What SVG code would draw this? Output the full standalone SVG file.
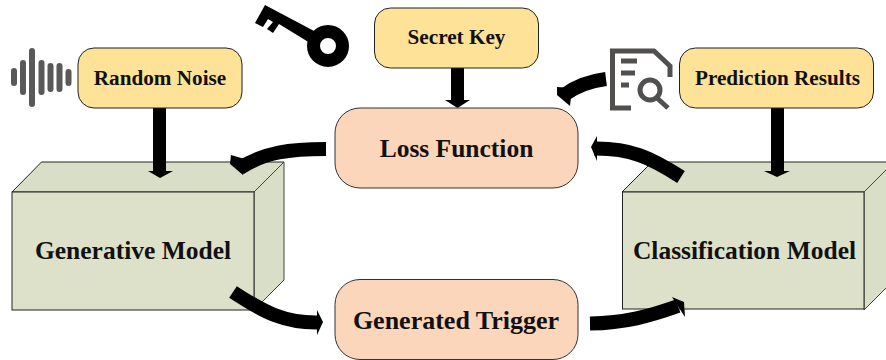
<svg xmlns="http://www.w3.org/2000/svg" width="886" height="360" viewBox="0 0 886 360">
<style>
text{font-family:"Liberation Serif","Times New Roman",serif;font-weight:bold;fill:#111;text-anchor:middle}
.y{fill:#fee298;stroke:#222;stroke-width:1}
.o{fill:#fbd6bb;stroke:#333;stroke-width:1}
.f{fill:#dde1c9;stroke:#222;stroke-width:1}
.t{fill:#d9dec6;stroke:#222;stroke-width:1}
.s{fill:#d9dec6;stroke:#444;stroke-width:1}
.c{fill:none;stroke:#000;stroke-width:14}
.a{fill:#000}
.bar{stroke:#595959;stroke-width:6;stroke-linecap:round}
.doc{fill:none;stroke:#524f4f;stroke-width:5}
</style>
<g id="generative-model">
<path class="t" d="M12 192L41.500 162H284L254 192Z"/>
<path class="s" d="M254 192L284 162V280L254 310Z"/>
<rect class="f" x="12" y="192" width="242" height="118"/>
<text x="133" y="259" font-size="25.500">Generative Model</text>
</g>
<g id="classification-model">
<path class="t" d="M622 192L652 162H894L864 192Z"/>
<path class="s" d="M864 192L894 162V280L864 310Z"/>
<rect class="f" x="622.500" y="192" width="241.500" height="117"/>
<text x="744.500" y="259" font-size="25.500">Classification Model</text>
</g>
<g id="connectors">
<rect class="a" x="153" y="108" width="13" height="63"/><path class="a" d="M148 171H173L160 178Z"/>
<rect class="a" x="451" y="68" width="13" height="33"/><path class="a" d="M445 100H470L457.500 108Z"/>
<rect class="a" x="771" y="108" width="13" height="63"/><path class="a" d="M764 171H790L777 177Z"/>
<path class="c" d="M326 149C290 149 265 152 240 168"/><path class="a" d="M231 155L230 164L243 175L248 160Z"/>
<path class="c" d="M606 79C590 81 576 86 564 95"/><path class="a" d="M557 87V95L570 106L572 88Z"/>
<path class="c" d="M681 177C650 157 630 148 594 148.500"/><path class="a" d="M597 136L591 147L597 161Z"/>
<path class="c" d="M233 292C265 313 285 323 318 322.500"/><path class="a" d="M317 310L323 322L317 335Z"/>
<path class="c" d="M590 323.500C625 323 650 316 678 306"/><path class="a" d="M672 297L684 302L685 317Z"/>
</g>
<g id="random-noise">
<rect class="y" x="78" y="48" width="164" height="60" rx="16"/>
<text x="160" y="84.500" font-size="21.200">Random Noise</text>
</g>
<g id="secret-key">
<rect class="y" x="374.500" y="8" width="164" height="60" rx="16"/>
<text x="456.500" y="43.500" font-size="21.200">Secret Key</text>
</g>
<g id="prediction-results">
<rect class="y" x="679.500" y="48" width="194" height="60" rx="16"/>
<text x="777.500" y="84.500" font-size="21.200">Prediction Results</text>
</g>
<g id="loss-function">
<rect class="o" x="335" y="108" width="243" height="80" rx="25"/>
<text x="456.500" y="157" font-size="25.500">Loss Function</text>
</g>
<g id="generated-trigger">
<rect class="o" x="335" y="279.500" width="243" height="80" rx="25"/>
<text x="456" y="329" font-size="26">Generated Trigger</text>
</g>
<g id="sound-icon">
<path class="bar" d="M14 71V83M23 63V92M32 51V104M41.500 63V92M50.500 66V89M59.500 66V89M68.500 72V83"/>
</g>
<g id="key-icon">
<path class="a" d="M265 5L255 23L263 27L268 19L273 22L267 29L273 33L279 24L310 43L316 32Z"/>
<circle cx="328" cy="46" r="14.500" fill="none" stroke="#000" stroke-width="13"/>
</g>
<g id="report-icon">
<path class="doc" d="M631 108H612.500V51H654L670 66V77"/>
<path d="M621 61H637M621 73H635M621 85H629" fill="none" stroke="#524f4f" stroke-width="5"/>
<circle cx="650" cy="90" r="10" fill="none" stroke="#524f4f" stroke-width="5"/>
<path d="M657 98L668 108" fill="none" stroke="#524f4f" stroke-width="5"/>
</g>
</svg>
